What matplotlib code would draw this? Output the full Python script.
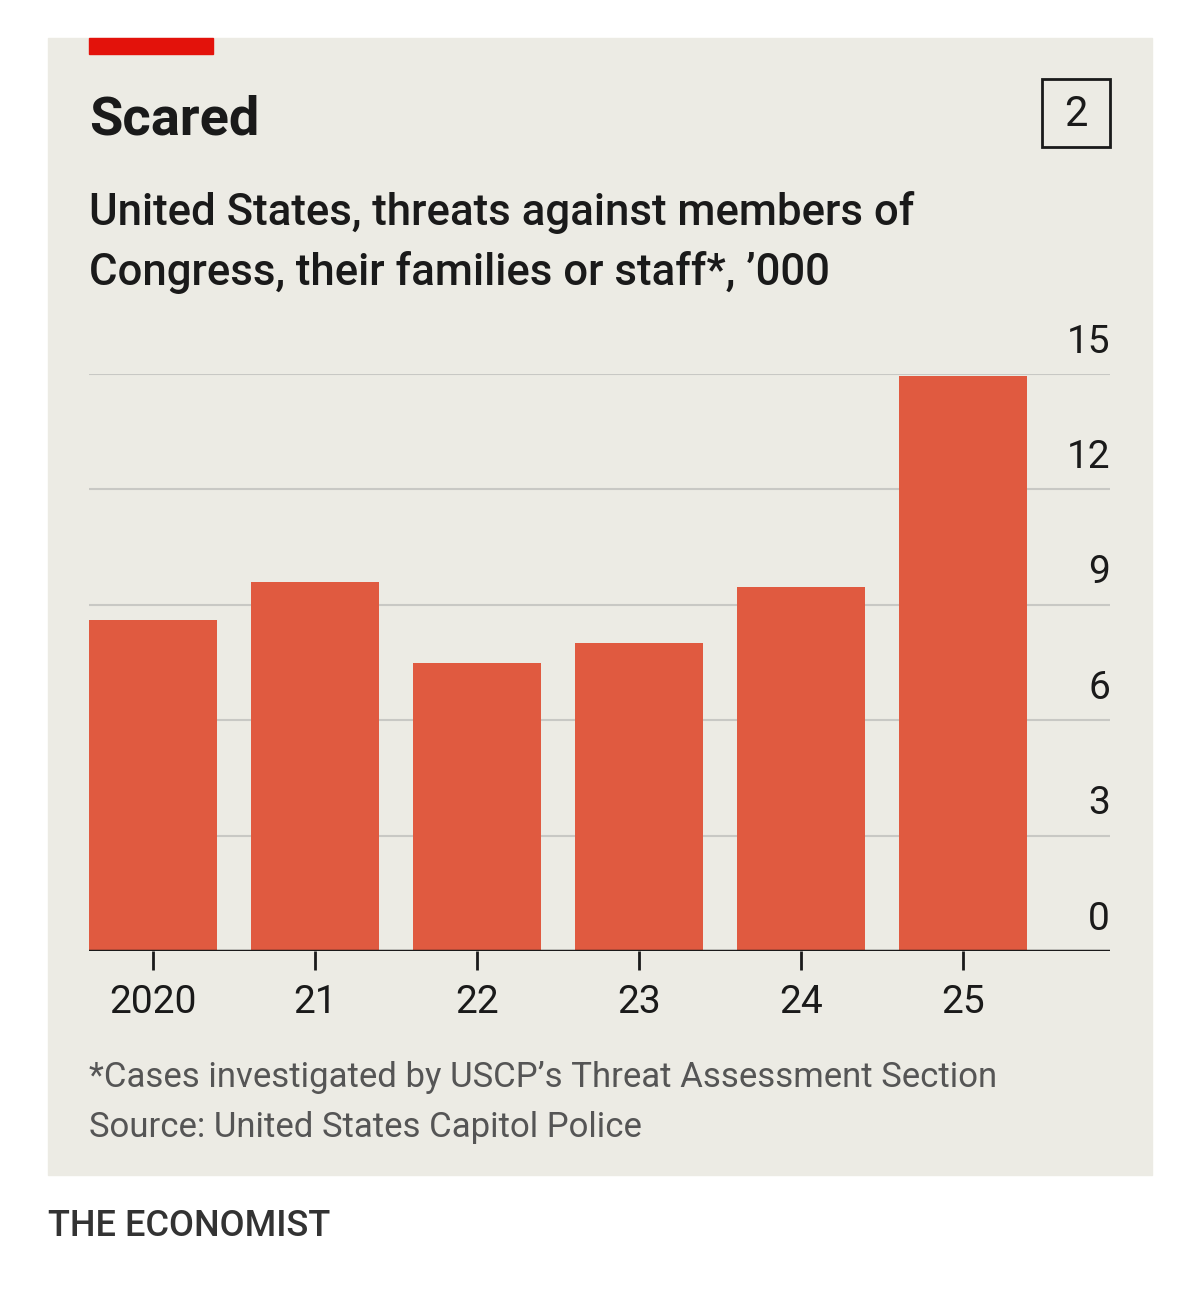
import matplotlib.pyplot as plt
from matplotlib.patches import Rectangle

years = ['2020', '21', '22', '23', '24', '25']
threats = [8.6, 9.6, 7.5, 8.0, 9.45, 14.95]
yticks = [0, 3, 6, 9, 12, 15]

plt.rcParams['font.family'] = ['Roboto', 'DejaVu Sans']

W, H = 1200, 1295
fig = plt.figure(figsize=(W / 100, H / 100), dpi=100)
fig.patch.set_facecolor('white')

def fx(px):
    return px / W

def fy(py):
    return 1 - py / H

# panel background
fig.patches.append(Rectangle((fx(48), fy(1175)), fx(1152) - fx(48), fy(38) - fy(1175),
                             transform=fig.transFigure, color='#ecebe4', zorder=-2))
fig.patches.append(Rectangle((fx(89), fy(54)), fx(213) - fx(89), fy(38) - fy(54),
                             transform=fig.transFigure, color='#e3120b', zorder=-1))
fig.patches.append(Rectangle((fx(1042), fy(147)), fx(1110) - fx(1042), fy(79) - fy(147),
                             transform=fig.transFigure, fill=False, ec='#1a1a1a', lw=2, zorder=-1))
fig.text(fx(1076), fy(114), '2', ha='center', va='center', fontsize=30, color='#1a1a1a')

fig.text(fx(89), fy(120), 'Scared', fontsize=39, weight='bold', va='center', color='#1a1a1a')
fig.text(fx(89), fy(212), 'United States, threats against members of', fontsize=31.5,
         weight='medium', va='center', color='#1a1a1a')
fig.text(fx(89), fy(272), 'Congress, their families or staff*, \u2019000', fontsize=31.5,
         weight='medium', va='center', color='#1a1a1a')

ax = fig.add_axes([fx(89), fy(951), fx(1110) - fx(89), fy(374) - fy(951)], zorder=5)
ax.set_facecolor('none')
x = range(len(years))
ax.bar(x, threats, width=0.79, color='#e05a40', zorder=2)
ax.set_xlim(-0.395, 5.907)
ax.set_ylim(0, 15)
for v in yticks:
    if v > 0:
        ax.axhline(v, color='#c8c8c4', lw=1.5, zorder=1)
    ax.text(5.907, v + 0.35, str(v), ha='right', va='bottom', fontsize=28, color='#1a1a1a')
ax.axhline(0, color='#1a1a1a', lw=2.5, zorder=3)
for s in ax.spines.values():
    s.set_visible(False)
ax.set_yticks([])
ax.set_xticks(list(x))
ax.set_xticklabels(years, fontsize=28, color='#1a1a1a')
ax.tick_params(axis='x', length=14, width=2, color='#1a1a1a', pad=10)

fig.text(fx(89), fy(1078), '*Cases investigated by USCP\u2019s Threat Assessment Section',
         fontsize=25, va='center', color='#555555')
fig.text(fx(89), fy(1128), 'Source: United States Capitol Police',
         fontsize=25, va='center', color='#555555')
fig.text(fx(48), fy(1227), 'THE ECONOMIST', fontsize=26, weight='medium',
         va='center', color='#333333')

fig.savefig('out.png', dpi=100)
